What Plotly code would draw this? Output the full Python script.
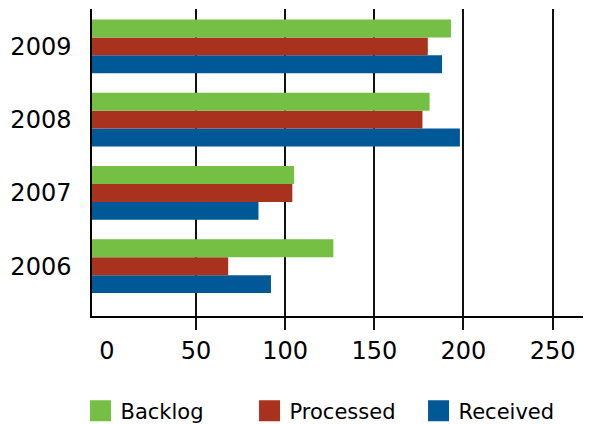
import plotly.graph_objects as go

years = ["2006", "2007", "2008", "2009"]
backlog = [127, 105, 181, 193]
processed = [68, 104, 177, 180]
received = [92, 85, 198, 188]
x_ticks = [0, 50, 100, 150, 200, 250]
grid_ticks = [50, 100, 150, 200, 250]

X_MIN, X_MAX = -8.4, 271
colors = {"Backlog": "#74BF44", "Processed": "#A8321E", "Received": "#005896"}
FONT = "DejaVu Sans"

fig = go.Figure()
# bars drawn from the axis floor (as in the reference)
for name, vals in [("Received", received), ("Processed", processed), ("Backlog", backlog)]:
    fig.add_trace(go.Bar(
        y=years, x=[v - X_MIN for v in vals], base=X_MIN, orientation="h",
        name=name, marker=dict(color=colors[name], line=dict(width=0)),
        customdata=vals, hovertemplate="%{y}: %{customdata}<extra>" + name + "</extra>",
        showlegend=False,
    ))
# legend entries (larger swatches)
for name in ["Received", "Processed", "Backlog"]:
    fig.add_trace(go.Scatter(
        x=[None], y=[None], mode="markers", name=name,
        marker=dict(symbol="square", size=16, color=colors[name],
                    line=dict(color=colors[name], width=5)),
    ))

fig.update_layout(
    width=583, height=416,
    margin=dict(l=84, r=1, t=1, b=108, autoexpand=False),
    paper_bgcolor="white", plot_bgcolor="white",
    barmode="group", bargap=0.265, bargroupgap=0,
    font=dict(family=FONT, size=24, color="black"),
    legend=dict(orientation="h", traceorder="reversed", x=-0.023, xanchor="left",
                y=-0.31, yanchor="middle", font=dict(size=21), itemclick=False,
                entrywidth=124, entrywidthmode="pixels"),
    xaxis=dict(
        range=[X_MIN, X_MAX], tickvals=x_ticks, showgrid=False, zeroline=False,
        automargin=False,
        ticks="outside", ticklen=12, tickcolor="rgba(0,0,0,0)",
        showline=True, linecolor="black", linewidth=1.5,
        minor=dict(tickvals=grid_ticks, ticks="outside", ticklen=12, tickcolor="#111",
                   tickwidth=1.5, showgrid=True, gridcolor="#111", gridwidth=1.5),
        tickfont=dict(size=24),
    ),
    yaxis=dict(
        type="category", range=[-0.68, 3.51], showgrid=False, zeroline=False,
        automargin=False,
        ticks="outside", ticklen=14, tickcolor="rgba(0,0,0,0)",
        showline=True, linecolor="black", linewidth=1.5,
        tickfont=dict(size=24),
    ),
)

fig.write_html("out.html")
